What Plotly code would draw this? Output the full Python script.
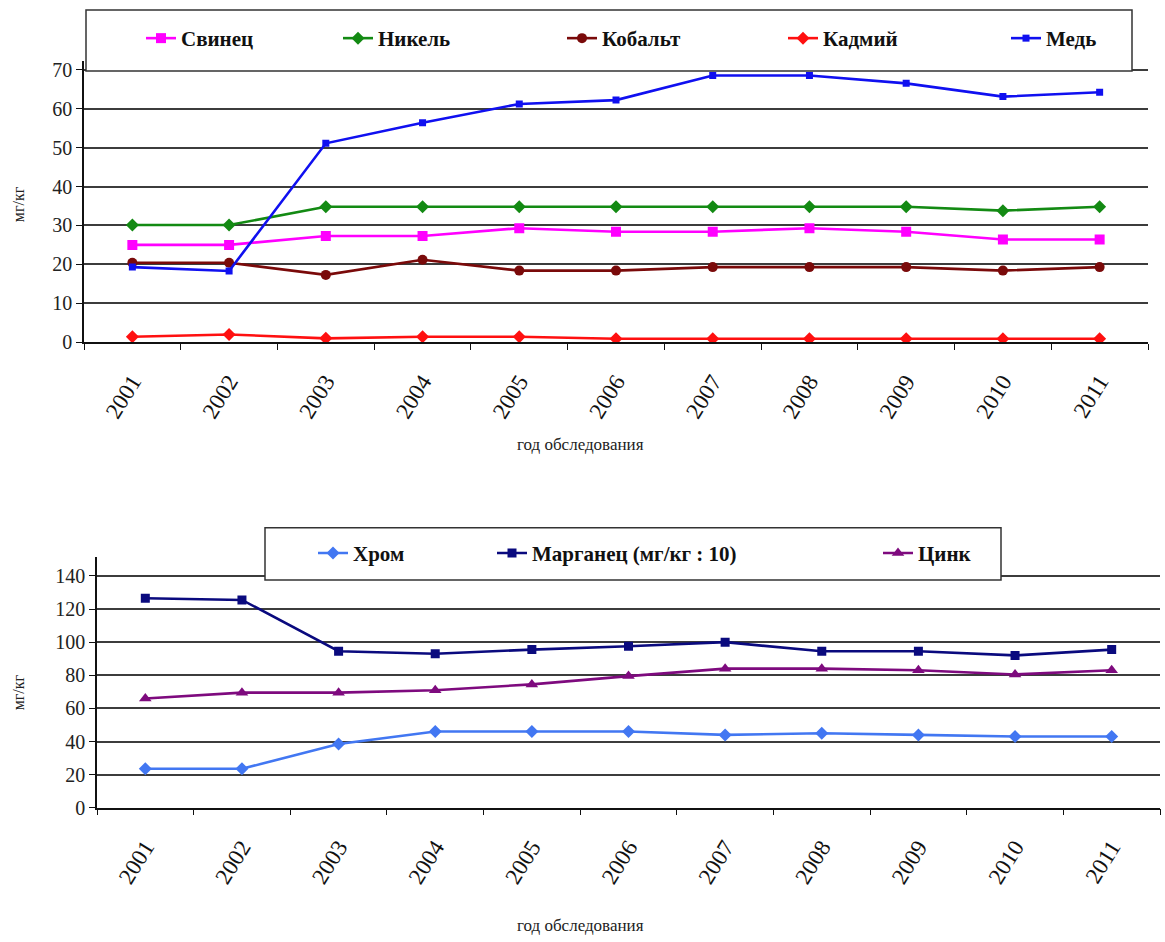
import plotly.graph_objects as go

W, H = 1165, 942

years = ["2001", "2002", "2003", "2004", "2005", "2006", "2007", "2008", "2009", "2010", "2011"]

# upper panel, mg/kg
svinets = [25, 25, 27.3, 27.3, 29.3, 28.4, 28.4, 29.3, 28.4, 26.4, 26.4]
nikel = [30.1, 30.1, 34.8, 34.8, 34.8, 34.8, 34.8, 34.8, 34.8, 33.8, 34.8]
kobalt = [20.4, 20.4, 17.3, 21.2, 18.4, 18.4, 19.3, 19.3, 19.3, 18.4, 19.3]
kadmiy = [1.4, 2.0, 1.0, 1.4, 1.4, 0.9, 0.9, 0.9, 0.9, 0.9, 0.9]
med = [19.3, 18.3, 51.1, 56.4, 61.2, 62.2, 68.5, 68.5, 66.5, 63.1, 64.2]

# lower panel, mg/kg (manganese divided by 10)
khrom = [23.5, 23.5, 38.5, 46, 46, 46, 44, 45, 44, 43, 43]
marganets = [126.5, 125.5, 94.5, 93, 95.5, 97.5, 100, 94.5, 94.5, 92, 95.5]
tsink = [66, 69.5, 69.5, 71, 74.5, 79.5, 84, 84, 83, 80.5, 83]

FONT = "Liberation Serif, Times New Roman, DejaVu Serif, serif"
GRID = "#3c3c3c"


def px_x(p):
    return p / W


def px_y(p):
    return 1 - p / H


fig = go.Figure()

top_series = [
    ("Свинец", svinets, "#FF00FF", "square", 10, "legend"),
    ("Никель", nikel, "#138A13", "diamond", 10, "legend2"),
    ("Кобальт", kobalt, "#7A0A0A", "circle", 10, "legend3"),
    ("Кадмий", kadmiy, "#FF1010", "diamond", 10, "legend4"),
    ("Медь", med, "#1010F0", "square", 7, "legend5"),
]
for name, vals, col, sym, size, lg in top_series:
    fig.add_trace(go.Scatter(
        x=years, y=vals, name=name, mode="lines+markers",
        line=dict(color=col, width=2.6),
        marker=dict(color=col, symbol=sym, size=size),
        xaxis="x", yaxis="y", legend=lg, showlegend=True,
    ))

bottom_series = [
    ("Хром", khrom, "#4277F2", "diamond", 10, "legend6"),
    ("Марганец (мг/кг : 10)", marganets, "#0A0A7E", "square", 9, "legend7"),
    ("Цинк", tsink, "#7E0A7E", "triangle-up", 11, "legend8"),
]
for name, vals, col, sym, size, lg in bottom_series:
    fig.add_trace(go.Scatter(
        x=years, y=vals, name=name, mode="lines+markers",
        line=dict(color=col, width=2.6),
        marker=dict(color=col, symbol=sym, size=size),
        xaxis="x2", yaxis="y2", legend=lg, showlegend=True,
    ))

xcommon = dict(
    type="category", categoryorder="array", categoryarray=years,
    range=[-0.5, 10.5], showgrid=False, showline=True, linecolor="#111111",
    linewidth=1.5, ticks="outside", tickson="boundaries", ticklen=6,
    tickcolor="#111111", tickangle=-58, ticklabelstandoff=15,
    tickfont=dict(family=FONT, size=23, color="#111111"),
)
ycommon = dict(
    showgrid=True, gridcolor=GRID, gridwidth=1.6, showline=True,
    linecolor="#111111", linewidth=1.5, ticks="outside", ticklen=6,
    tickcolor="#111111", zeroline=False, tick0=0,
    tickfont=dict(family=FONT, size=20, color="#222222"),
)

fig.update_layout(
    width=W, height=H, margin=dict(l=0, r=0, t=0, b=0),
    paper_bgcolor="white", plot_bgcolor="white", showlegend=True,
    font=dict(family=FONT),
    xaxis=dict(xcommon, domain=[px_x(84), px_x(1148)], anchor="y"),
    yaxis=dict(ycommon, domain=[px_y(345), px_y(60)], range=[0, 72.2], dtick=10, anchor="x"),
    xaxis2=dict(xcommon, domain=[px_x(97), px_x(1160)], anchor="y2"),
    yaxis2=dict(ycommon, domain=[px_y(817), px_y(563)], range=[0, 151.3], dtick=20, anchor="x2"),
)

# legend frames
fig.add_shape(type="rect", xref="paper", yref="paper",
              x0=px_x(86), x1=px_x(1132), y0=px_y(70), y1=px_y(8),
              fillcolor="white", line=dict(color="#333333", width=1.5), layer="above")
fig.add_shape(type="rect", xref="paper", yref="paper",
              x0=px_x(265), x1=px_x(1001), y0=px_y(586), y1=px_y(533),
              fillcolor="white", line=dict(color="#333333", width=1.5), layer="above")

# one legend per series so each entry sits at its own place in the frame
legend_pos = {
    "legend": (141, 37), "legend2": (338, 37), "legend3": (562, 37),
    "legend4": (783, 37), "legend5": (1006, 37),
    "legend6": (313, 559), "legend7": (492, 559), "legend8": (878, 559),
}
for key, (lx, ly) in legend_pos.items():
    fig.update_layout({key: dict(
        x=px_x(lx), y=px_y(ly), xanchor="left", yanchor="middle",
        orientation="h", bgcolor="rgba(0,0,0,0)", borderwidth=0, visible=True,
        font=dict(family=FONT, size=21, color="#111111", weight="bold"),
    )})

# axis titles
for yy in (205, 700):
    fig.add_annotation(text="мг/кг", xref="paper", yref="paper",
                       x=px_x(18), y=px_y(yy), xanchor="center", yanchor="middle",
                       textangle=-90, showarrow=False,
                       font=dict(family=FONT, size=16, color="#222222"))
for yy in (437, 925):
    fig.add_annotation(text="год обследования", xref="paper", yref="paper",
                       x=px_x(580), y=px_y(yy), xanchor="center", yanchor="top",
                       showarrow=False,
                       font=dict(family=FONT, size=17, color="#222222"))

fig.write_html("out.html")
